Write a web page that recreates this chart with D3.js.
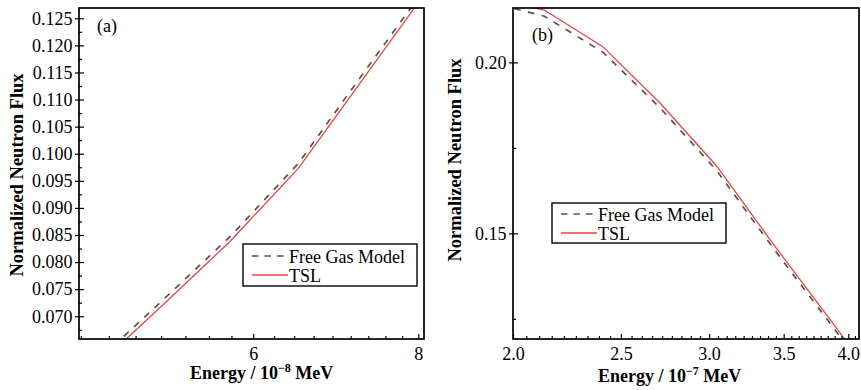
<!DOCTYPE html>
<html>
<head>
<meta charset="utf-8">
<script src="https://cdn.jsdelivr.net/npm/d3@7"></script>
<style>
  body { margin: 0; background: #fff; }
  svg { display: block; }
  text { font-family: "Liberation Serif", "Times New Roman", serif; fill: #000; }
</style>
</head>
<body>
<svg id="chart" width="861" height="390"></svg>
<script>
// panel (a): energy in 1e-8 MeV
const energyA = [4.54, 5.117, 5.763, 6.491, 7.311, 8.234];
const gasA    = [0.0610, 0.0728, 0.0847, 0.0982, 0.1157, 0.1330];
const tslA    = [0.0601, 0.0719, 0.0838, 0.0973, 0.1147, 0.1321];
const yTicksA = [0.070, 0.075, 0.080, 0.085, 0.090, 0.095, 0.100, 0.105, 0.110, 0.115, 0.120, 0.125];
const xTicksA = [6, 8];

// panel (b): energy in 1e-7 MeV
const energyB = [1.896, 2.134, 2.408, 2.709, 3.047, 3.430, 3.861, 4.346];
const gasB    = [0.2177, 0.2135, 0.2030, 0.1868, 0.1684, 0.1454, 0.1233, 0.1006];
const tslB    = [0.2188, 0.2153, 0.2046, 0.1882, 0.1697, 0.1466, 0.1244, 0.1017];
const yTicksB = [0.15, 0.20];
const xTicksB = [2.0, 2.5, 3.0, 3.5, 4.0];

const seriesNames = ['Free Gas Model', 'TSL'];

const svg = d3.select('#chart');
const RED = '#e8433f';
const GRAY = '#555';

// minor ticks: 9 subdivisions of each major step (linear values on a log axis)
function minorValues(first, stepMajor, nMajor, dom, majors) {
  const out = [];
  for (let i = 0; i <= nMajor * 9; i++) {
    const v = first + i * stepMajor / 9;
    if (v < dom[0] || v > dom[1]) continue;
    if (majors.some(m => Math.abs(m - v) < 1e-9)) continue;
    out.push(v);
  }
  return out;
}

function drawPanel(p) {
  const x = d3.scaleLog().domain(p.xDomain).range([p.left, p.right]);
  const y = d3.scaleLinear().domain(p.yDomain).range([p.bottom, p.top]);
  const g = svg.append('g');

  g.append('clipPath').attr('id', 'clip-' + p.id)
    .append('rect')
    .attr('x', p.left).attr('y', p.top)
    .attr('width', p.right - p.left).attr('height', p.bottom - p.top);

  const line = d3.line().x(d => x(d[0])).y(d => y(d[1]));
  const plot = g.append('g').attr('clip-path', `url(#clip-${p.id})`);

  plot.append('path')
    .datum(p.energy.map((e, i) => [e, p.gas[i]]))
    .attr('d', line)
    .attr('fill', 'none').attr('stroke', GRAY)
    .attr('stroke-width', 1.7).attr('stroke-dasharray', '6.5,7.5');

  plot.append('path')
    .datum(p.energy.map((e, i) => [e, p.tsl[i]]))
    .attr('d', line)
    .attr('fill', 'none').attr('stroke', RED)
    .attr('stroke-width', 1.3);

  // x axis
  const xa = g.append('g').attr('transform', `translate(0,${p.bottom})`)
    .call(d3.axisBottom(x).tickValues(p.xTicks).tickSize(-5).tickPadding(8).tickFormat(p.xFmt));
  const xm = g.append('g').attr('transform', `translate(0,${p.bottom})`)
    .call(d3.axisBottom(x).tickValues(p.xMinor).tickSize(-3).tickFormat(''));

  // y axis
  const ya = g.append('g').attr('transform', `translate(${p.left},0)`)
    .call(d3.axisLeft(y).tickValues(p.yTicks).tickSize(4).tickPadding(2.5).tickFormat(p.yFmt));
  ya.selectAll('.tick line').attr('x1', 5);
  const ym = g.append('g').attr('transform', `translate(${p.left},0)`)
    .call(d3.axisLeft(y).tickValues(p.yMinor).tickSize(-3).tickFormat(''));

  [xa, xm, ya, ym].forEach(a => {
    a.select('.domain').remove();
    a.attr('font-family', null).attr('font-size', 18);
    a.selectAll('.tick line').attr('stroke', '#000').attr('stroke-width', 1.2);
  });

  // frame
  g.append('rect')
    .attr('x', p.left).attr('y', p.top)
    .attr('width', p.right - p.left).attr('height', p.bottom - p.top)
    .attr('fill', 'none').attr('stroke', '#000').attr('stroke-width', 1.7);

  // axis titles
  g.append('text')
    .attr('transform', `translate(${p.yTitleX},${p.yTitleY}) rotate(-90)`)
    .attr('text-anchor', 'middle')
    .attr('font-size', 18.5).attr('font-weight', 'bold')
    .text('Normalized Neutron Flux');

  const xt = g.append('text')
    .attr('x', p.xTitleX).attr('y', p.xTitleY)
    .attr('font-size', 18).attr('font-weight', 'bold');
  xt.append('tspan').text('Energy / 10');
  xt.append('tspan').attr('font-size', 12).attr('dy', -7).text(p.exp);
  xt.append('tspan').attr('dy', 7).text(' MeV');

  // panel label
  g.append('text').attr('x', p.labelX).attr('y', p.labelY)
    .attr('font-size', 18).text(p.label);

  // legend
  const L = p.legend;
  const lg = g.append('g');
  lg.append('rect')
    .attr('x', L.x).attr('y', L.y).attr('width', L.w).attr('height', L.h)
    .attr('fill', '#fff').attr('stroke', '#000').attr('stroke-width', 1.4);
  const styles = [
    { stroke: GRAY, width: 1.7, dash: '6.5,6' },
    { stroke: RED, width: 1.3, dash: null }
  ];
  seriesNames.forEach((name, i) => {
    lg.append('line')
      .attr('x1', L.x + 9).attr('x2', L.x + 45)
      .attr('y1', L.rows[i]).attr('y2', L.rows[i])
      .attr('stroke', styles[i].stroke).attr('stroke-width', styles[i].width)
      .attr('stroke-dasharray', styles[i].dash);
    lg.append('text')
      .attr('x', L.x + 46).attr('y', L.rows[i] + 6.5)
      .attr('font-size', 18).text(name);
  });
}

const domA = [4.43, 8.08];
const yDomA = [0.0658, 0.1269];
drawPanel({
  id: 'a', left: 79, right: 424, top: 8, bottom: 339,
  xDomain: domA, yDomain: yDomA,
  energy: energyA, gas: gasA, tsl: tslA,
  xTicks: xTicksA, xMinor: minorValues(4, 2, 3, domA, xTicksA),
  yTicks: yTicksA, yMinor: d3.range(0, 13).map(i => 0.0675 + i * 0.005).filter(v => v > yDomA[0] && v < yDomA[1]),
  xFmt: d3.format('d'), yFmt: d3.format('.3f'),
  yTitleX: 23, yTitleY: 175, xTitleX: 190, xTitleY: 379, exp: '\u22128',
  label: '(a)', labelX: 97, labelY: 32,
  legend: { x: 243, y: 244, w: 174, h: 42, rows: [256, 275] }
});

const domB = [2.0, 4.09];
const yDomB = [0.1191, 0.2159];
drawPanel({
  id: 'b', left: 513, right: 859, top: 8, bottom: 339,
  xDomain: domB, yDomain: yDomB,
  energy: energyB, gas: gasB, tsl: tslB,
  xTicks: xTicksB, xMinor: minorValues(1.5, 0.5, 6, domB, xTicksB),
  yTicks: yTicksB, yMinor: [0.125, 0.175],
  xFmt: d3.format('.1f'), yFmt: d3.format('.2f'),
  yTitleX: 461, yTitleY: 160, xTitleX: 598, xTitleY: 382, exp: '\u22127',
  label: '(b)', labelX: 532, labelY: 41,
  legend: { x: 552, y: 203, w: 174, h: 40, rows: [214, 233] }
});
</script>
</body>
</html>
